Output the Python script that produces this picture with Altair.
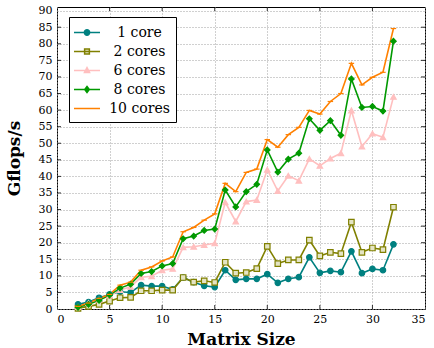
import altair as alt
import pandas as pd

sizes = list(range(2, 33))
series_names = ["1 core", "2 cores", "6 cores", "8 cores", "10 cores"]

one_core = [1.4, 2.1, 3.4, 4.4, 5.2, 5.0, 7.2, 6.9, 6.9, 5.9, 9.5, 8.1, 7.0, 6.6, 11.7, 8.8,
            9.1, 9.1, 10.5, 7.9, 9.1, 9.6, 15.6, 10.9, 11.5, 11.1, 17.4, 10.8, 12.1, 11.7, 19.5]
two_cores = [0.2, 0.8, 1.4, 2.4, 3.4, 3.5, 5.5, 5.5, 5.7, 5.7, 9.5, 8.1, 8.5, 8.0, 14.1, 10.8,
             11.0, 12.2, 18.9, 13.7, 14.8, 14.8, 20.8, 16.0, 17.1, 16.7, 26.2, 17.1, 18.4, 17.9, 30.7]
six_cores = [0.6, 1.8, 2.8, 4.0, 5.7, 6.7, 9.6, 9.9, 11.7, 12.1, 18.6, 18.8, 19.3, 19.8, 32.2, 26.4,
             32.4, 32.9, 42.0, 35.6, 40.2, 38.7, 45.3, 43.2, 45.4, 47.0, 59.9, 49.0, 52.9, 51.8, 64.0]
eight_cores = [0.5, 1.4, 2.6, 4.2, 6.3, 7.5, 10.7, 11.3, 13.0, 13.7, 21.2, 22.0, 23.7, 24.1, 35.9, 30.8,
               35.4, 37.6, 48.0, 41.3, 45.2, 47.0, 57.4, 53.9, 56.8, 52.4, 69.4, 60.8, 61.1, 59.7, 80.8]
ten_cores = [0.8, 1.8, 3.2, 4.4, 7.2, 8.1, 11.7, 12.7, 14.5, 15.7, 23.3, 24.6, 26.8, 28.7, 37.9, 35.4,
             41.2, 42.2, 51.1, 48.8, 52.6, 54.8, 59.9, 58.8, 62.6, 65.0, 74.1, 67.6, 69.9, 71.4, 84.6]

x_ticks = [0, 5, 10, 15, 20, 25, 30, 35]
y_ticks = [0, 5, 10, 15, 20, 25, 30, 35, 40, 45, 50, 55, 60, 65, 70, 75, 80, 85, 90]

line_colors = ["#008080", "#808000", "#ffbfbf", "#009900", "#ff8000"]
fill_colors = ["#008080", "#e4e4c4", "#ffbfbf", "#009900", "#ff8000"]
point_shapes = ["circle", "square", "triangle-up", "diamond", "M-1,0H1"]
legend_shapes = [
    "M-1.53,0H1.53M-0.31,0A0.31,0.31 0 1,0 0.31,0A0.31,0.31 0 1,0 -0.31,0Z",
    "M-1.53,0H1.53M-0.28,-0.28H0.28V0.28H-0.28Z",
    "M-1.53,0H1.53M0,-0.34L0.3,0.23H-0.3Z",
    "M-1.53,0H1.53M0,-0.36L0.27,0L0,0.36L-0.27,0Z",
    "M-1.53,0H1.53",
]

all_values = [one_core, two_cores, six_cores, eight_cores, ten_cores]
rows = []
for name, vals in zip(series_names, all_values):
    for s, v in zip(sizes, vals):
        rows.append({"size": s, "gflops": v, "series": name})
df = pd.DataFrame(rows)

xt = pd.DataFrame({"size": x_ticks[1:-1]})
yt = pd.DataFrame({"gflops": y_ticks[1:-1]})

FONT = "DejaVu Serif"

X = alt.X("size:Q", scale=alt.Scale(domain=[0, 35], nice=False, zero=False),
          axis=alt.Axis(values=x_ticks, title="Matrix Size", titleX=184, titleY=30,
                        titleBaseline="middle", titleAlign="center", labelPadding=4))
Y = alt.Y("gflops:Q", scale=alt.Scale(domain=[0, 91.1], nice=False),
          axis=alt.Axis(values=y_ticks, title="Gflops/s", titleX=-43, titleY=151, titleAngle=270,
                        titleBaseline="middle", titleAlign="center", labelPadding=5))

color_scale = alt.Scale(domain=series_names, range=line_colors)

lines = alt.Chart(df).mark_line(strokeWidth=1.6).encode(
    x=X, y=Y,
    color=alt.Color("series:N", scale=color_scale, legend=None),
    detail="series:N",
    order="size:Q",
)

points = alt.Chart(df).mark_point(filled=True, size=30, strokeWidth=1.2, opacity=1).encode(
    x=X, y=Y,
    shape=alt.Shape("series:N", scale=alt.Scale(domain=series_names, range=point_shapes), legend=None),
    stroke=alt.Stroke("series:N", scale=alt.Scale(domain=series_names, range=line_colors), legend=None),
    fill=alt.Fill("series:N", scale=alt.Scale(domain=series_names, range=fill_colors), legend=None),
)

leg = alt.Legend(title=None, orient="none", legendX=12, legendY=10, padding=6,
                 strokeColor="black", fillColor="white", cornerRadius=0,
                 labelFont=FONT, labelFontSize=14, labelColor="black", labelAlign="center",
                 labelOffset=43, rowPadding=2, symbolSize=289, symbolOffset=2.5,
                 symbolStrokeWidth=1.5)

legend_layer = alt.Chart(df).transform_filter("datum.size < 0").mark_point(
    filled=True, size=26, strokeWidth=1.5, opacity=1
).encode(
    x=X, y=Y,
    shape=alt.Shape("series:N", scale=alt.Scale(domain=series_names, range=legend_shapes), legend=leg),
    stroke=alt.Stroke("series:N", scale=alt.Scale(domain=series_names, range=line_colors), legend=leg),
    fill=alt.Fill("series:N", scale=alt.Scale(domain=series_names, range=fill_colors), legend=leg),
)

tick_bottom = alt.Chart(xt).mark_rule(color="black", strokeWidth=0.8).encode(
    x=X, y=alt.value(302), y2=alt.value(298))
tick_top = alt.Chart(xt).mark_rule(color="black", strokeWidth=0.8).encode(
    x=X, y=alt.value(0), y2=alt.value(4))
tick_left = alt.Chart(yt).mark_rule(color="black", strokeWidth=0.8).encode(
    y=Y, x=alt.value(0), x2=alt.value(4))
tick_right = alt.Chart(yt).mark_rule(color="black", strokeWidth=0.8).encode(
    y=Y, x=alt.value(368), x2=alt.value(364))

chart = alt.layer(
    lines, points, tick_bottom, tick_top, tick_left, tick_right, legend_layer
).resolve_scale(
    shape="independent", stroke="independent", fill="independent"
).resolve_legend(
    shape="independent", stroke="independent", fill="independent"
).properties(
    width=368, height=302,
    autosize=alt.AutoSizeParams(type="none"),
    padding={"left": 57, "top": 7, "right": 9, "bottom": 39},
    background="white",
).configure_view(
    stroke="black", strokeWidth=1
).configure_axis(
    labelFont=FONT, labelFontSize=11, labelColor="black",
    titleFont=FONT, titleFontSize=17, titleFontWeight="bold", titleColor="black",
    ticks=False, tickSize=0, domain=False,
    grid=True, gridColor="#a0a0a0", gridDash=[1, 2], gridWidth=1,
)

chart.save("out.html", embed_options={"renderer": "svg", "actions": False})
